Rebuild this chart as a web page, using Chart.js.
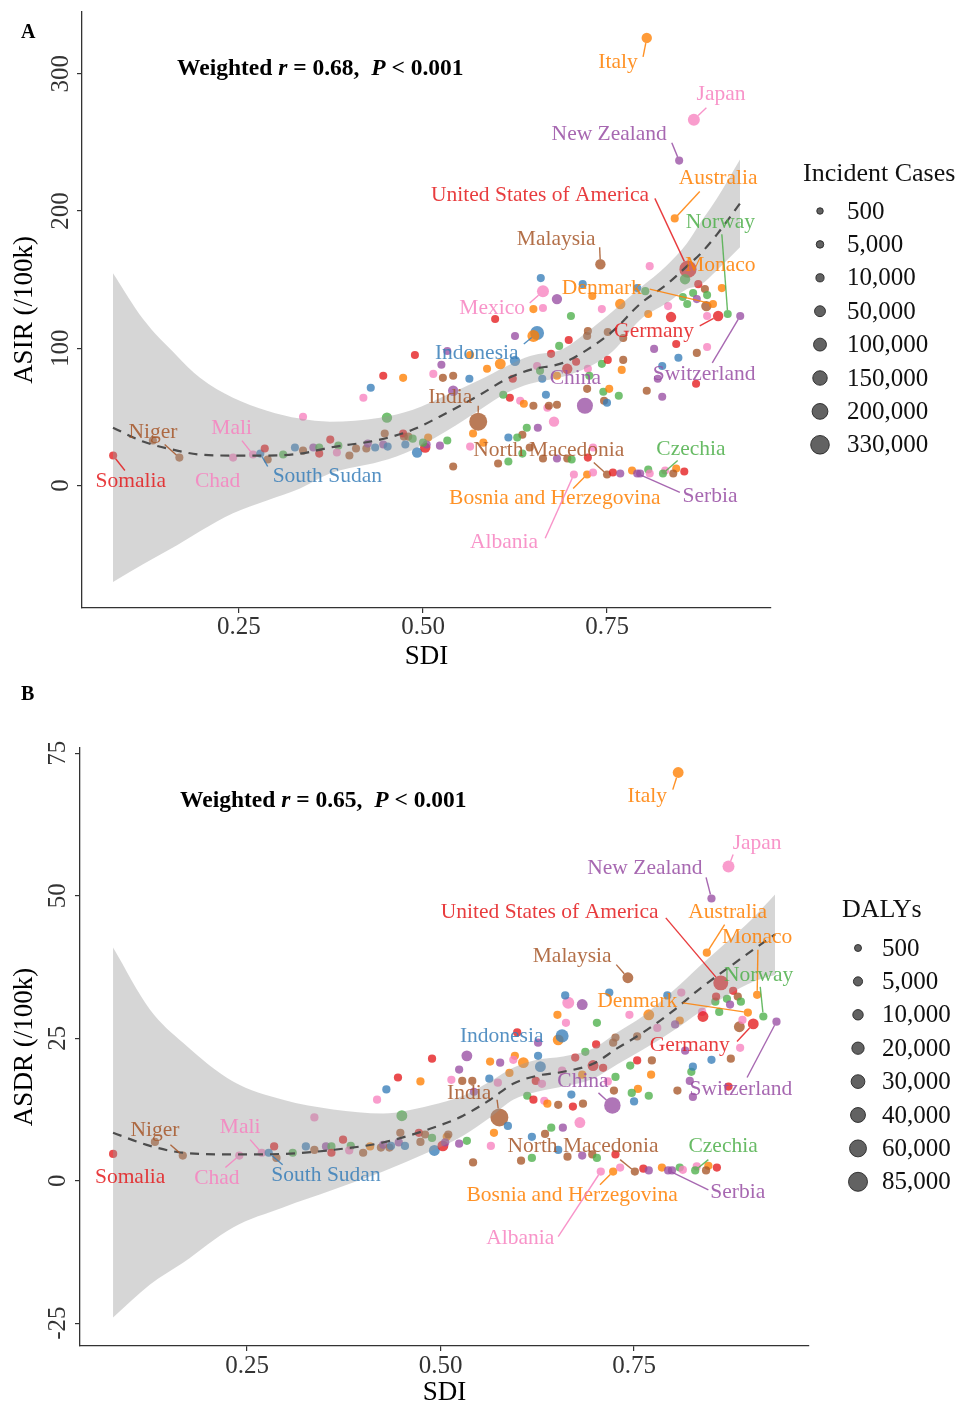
<!DOCTYPE html>
<html><head><meta charset="utf-8">
<script src="https://cdn.jsdelivr.net/npm/chart.js@4.4.1/dist/chart.umd.min.js"></script>
<style>
html,body{margin:0;padding:0;background:#fff;}
#wrap{position:relative;width:961px;height:1408px;overflow:hidden;}
canvas{position:absolute;left:0;}
#cA{top:0;} #cB{top:670px;}
</style></head><body>
<div id="wrap"><canvas id="cA" width="961" height="690"></canvas><canvas id="cB" width="961" height="738"></canvas></div>
<script>
// ---------------- DATA ----------------
const xTicks = [0.25, 0.50, 0.75];
const yTicksA = [0, 100, 200, 300];
const yTicksB = [-25, 0, 25, 50, 75];
const legendCases = [500, 5000, 10000, 50000, 100000, 150000, 200000, 330000];
const legendDalys = [500, 5000, 10000, 20000, 30000, 40000, 60000, 85000];

// Panel A: SDI vs ASIR
const sdiA = [
0.079,0.133,0.169,0.242,0.269,0.279,0.285,0.289,0.310,0.326,
0.337,0.337,0.351,0.359,0.359,0.374,0.385,0.383,0.400,0.409,
0.423,0.425,0.435,0.446,0.452,0.448,0.451,0.419,0.429,0.446,
0.473,0.489,0.514,0.527,0.541,0.525,0.533,0.541,0.563,0.564,
0.474,0.473,0.480,0.476,0.486,0.492,0.503,0.507,0.505,0.500,
0.523,0.533,0.541,0.568,0.564,0.575,0.663,0.650,0.598,0.701,
0.743,0.768,0.806,0.837,0.655,0.650,0.625,0.625,0.605,0.587,
0.674,0.698,0.685,0.724,0.723,0.751,0.772,0.708,0.696,0.655,
0.659,0.662,0.622,0.682,0.743,0.751,0.772,0.770,0.724,0.726,
0.723,0.745,0.753,0.766,0.746,0.750,0.720,0.667,0.618,0.609,
0.632,0.637,0.650,0.669,0.671,0.682,0.678,0.641,0.656,0.635,
0.628,0.616,0.582,0.602,0.616,0.645,0.635,0.663,0.682,0.696,
0.702,0.724,0.731,0.705,0.723,0.731,0.750,0.758,0.768,0.784,
0.791,0.795,0.806,0.808,0.829,0.826,0.844,0.840,0.855,0.825,
0.847,0.814,0.844,0.872,0.886,0.819,0.871,0.804,0.825,0.931,
0.901,0.886,0.914,0.885,0.894,0.859,0.804,0.868,0.848,0.842,
0.741,0.860,0.856,0.808,0.660,0.663,0.682,0.717,0.730,0.791,
0.802,0.833,0.874,0.883,0.867,0.886,0.906,0.872,0.853];
const asir = [
21.8,32.7,20.3,20.3,22.5,23.2,26.9,18.9,22.5,27.6,
25.4,50.1,27.6,27.6,23.2,33.4,29.0,24.0,21.8,26.9,
26.9,30.5,27.6,29.8,28.3,37.8,49.4,63.9,71.2,79.9,
78.4,95.1,81.3,78.4,79.9,87.9,98.0,69.0,77.7,95.1,
35.6,37.8,35.6,29.8,34.1,24.0,27.6,34.9,29.8,31.2,
29.0,32.7,13.8,37.8,28.3,46.5,129.3,128.5,121.3,123.5,
128.5,132.2,124.9,122.7,111.1,108.9,108.9,90.8,88.6,85.0,
95.9,106.0,101.7,112.6,108.9,111.8,107.5,90.1,85.0,87.1,
83.5,77.7,77.7,79.9,88.6,91.5,91.5,84.2,85.0,79.9,
70.4,68.3,70.4,65.4,61.7,60.3,58.1,66.1,63.9,66.1,
61.7,59.5,58.1,56.6,58.1,58.8,46.5,42.1,42.1,37.0,
34.9,34.9,31.2,16.0,17.4,27.6,23.2,19.6,19.6,19.6,
18.9,20.3,27.6,8.0,8.0,9.4,8.0,9.4,8.7,10.9,
8.7,8.7,11.6,8.7,10.9,8.7,12.3,8.7,10.2,87.1,
93.0,99.5,103.1,96.6,100.9,77.7,74.1,69.0,64.6,123.5,
123.5,123.5,124.9,130.7,132.2,132.2,326.1,266.5,236.7,194.6,
161.2,157.6,150.3,159.8,151.1,141.6,135.8,146.7,138.0,143.8,
141.6,130.7,146.7,143.1,140.2,138.7,143.8,135.8,137.3];
const casesA = [
9e3,9e3,9e3,9e3,9e3,9e3,9e3,9e3,9e3,9e3,
9e3,9e3,9e3,9e3,9e3,9e3,9e3,9e3,9e3,9e3,
9e3,9e3,9e3,9e3,9e3,9e3,4e4,9e3,9e3,9e3,
9e3,9e3,9e3,9e3,9e3,9e3,9e3,4e4,9e3,9e3,
9e3,9e3,9e3,9e3,9e3,4e4,4e4,9e3,9e3,9e3,
9e3,9e3,9e3,9e3,9e3,3e5,9e3,9e3,9e3,9e3,
9e3,4e4,9e3,4e4,1.3e5,7.5e4,9e3,4e4,5e4,9e3,
9e3,9e3,9e3,9e3,9e3,9e3,9e3,9e3,4e4,9e3,
9e3,9e3,9e3,9e3,9e3,9e3,9e3,9e3,9e3,9e3,
9e3,9e3,9e3,9e3,9e3,9e3,2.1e5,9e3,9e3,9e3,
9e3,9e3,9e3,9e3,9e3,9e3,4e4,9e3,9e3,9e3,
9e3,9e3,9e3,9e3,9e3,9e3,9e3,9e3,9e3,9e3,
9e3,9e3,9e3,9e3,9e3,9e3,9e3,9e3,9e3,9e3,
9e3,9e3,9e3,9e3,9e3,9e3,9e3,9e3,9e3,9e3,
9e3,9e3,9e3,9e3,9e3,9e3,9e3,9e3,9e3,9e3,
4e4,9e3,9e3,4e4,9e3,9e3,4e4,7.5e4,9e3,9e3,
4e4,2.6e5,4e4,9e3,9e3,7.5e4,4e4,9e3,9e3,9e3,
9e3,9e3,9e3,9e3,9e3,9e3,9e3,9e3,9e3];
const groupA = (
"RNNKKBRNGB"+"NKPGRRGKNN"+"NPBPBNGKBR"+"ORKNNPPPBO"+"NRNBGBROPG"+
"PGNOKNKORG"+"KOORBOPBOO"+"RRGNNNNRRK"+"GBROGRNOKG"+"NGOGNBPBRG"+
"KONKNNKGPN"+"GBONGNGNPN"+"GRKKOKNRPO"+"PPGKKGONRB"+"BPRNKPRNPP"+
"RKGNOGOKPO"+"NRGKBKPBOB"+"GKRNGGOPG").split('');

// Panel A smooth fit and 95% band
const fitSdiA = [0.0788,0.1196,0.1658,0.1970,0.2418,0.2880,0.3329,0.3736,0.4416,0.4864,0.5326,0.5774,0.6141,0.6454,0.6902,0.7228,0.7582,0.7948,0.8315,0.8587,0.8764,0.8995,0.9307];
const fitA   = [42.1,32.0,25.4,22.5,21.8,21.8,23.2,27.6,33.4,40.7,53.0,66.1,77.7,84.2,89.3,98.8,112.6,132.2,146.7,159.8,168.5,183.0,205.5];
const upperA = [154.7,121.3,94.4,78.4,63.9,54.5,48.7,46.5,49.4,55.2,66.1,77.0,87.1,94.4,99.5,111.8,127.1,143.8,160.5,176.5,191.0,209.2,237.5];
const lowerA = [-70.4,-57.4,-43.6,-33.4,-20.3,-10.9,-2.2,8.7,17.4,26.1,39.9,55.2,67.5,74.1,79.2,85.7,98.0,120.6,132.9,143.1,146.0,156.9,173.6];

// Panel B: SDI vs ASDR
const sdiB = [
0.077,0.131,0.167,0.240,0.269,0.278,0.288,0.285,0.309,0.326,
0.337,0.337,0.352,0.359,0.359,0.374,0.384,0.382,0.400,0.409,
0.423,0.426,0.434,0.436,0.446,0.454,0.448,0.450,0.418,0.430,
0.445,0.474,0.489,0.534,0.524,0.514,0.528,0.541,0.474,0.472,
0.480,0.489,0.492,0.503,0.508,0.506,0.510,0.524,0.534,0.542,
0.543,0.563,0.574,0.564,0.577,0.596,0.607,0.594,0.589,0.626,
0.629,0.623,0.631,0.612,0.620,0.634,0.638,0.652,0.652,0.657,
0.599,0.626,0.576,0.587,0.569,0.565,0.618,0.635,0.643,0.658,
0.652,0.618,0.604,0.674,0.687,0.701,0.723,0.726,0.754,0.769,
0.744,0.662,0.651,0.702,0.665,0.683,0.661,0.718,0.793,0.811,
0.809,0.803,0.780,0.697,0.710,0.683,0.657,0.722,0.724,0.726,
0.716,0.669,0.671,0.684,0.680,0.664,0.683,0.696,0.702,0.726,
0.707,0.723,0.732,0.751,0.762,0.769,0.786,0.794,0.799,0.809,
0.813,0.831,0.829,0.846,0.843,0.857,0.806,0.822,0.826,0.824,
0.826,0.755,0.747,0.750,0.769,0.772,0.745,0.754,0.773,0.850,
0.875,0.887,0.904,0.886,0.890,0.934,0.897,0.917,0.816,0.872,
0.807,0.872,0.850,0.844,0.742,0.862,0.909,0.878,0.884,0.888,
0.870,0.855,0.856,0.874,0.860,0.838,0.839];
const asdr = [
4.7,6.8,4.4,4.4,4.9,4.9,4.0,6.0,4.9,6.0,
11.1,5.4,6.0,6.0,4.9,7.2,6.1,5.3,4.9,6.0,
5.8,6.3,5.8,6.1,6.7,6.1,8.4,11.4,14.2,16.0,
18.1,17.4,21.4,21.9,19.5,17.7,17.5,17.5,6.8,8.4,
8.1,7.5,5.3,6.1,7.7,6.7,8.1,6.5,7.0,3.2,
15.6,17.9,17.2,20.9,20.7,21.9,20.7,21.2,18.9,21.9,
20.0,17.5,17.0,14.9,14.2,14.0,13.5,13.3,24.7,25.4,
26.0,24.2,11.1,9.6,8.4,6.1,7.7,8.2,9.3,9.3,
5.4,4.0,3.5,21.6,22.6,23.9,24.2,25.1,25.3,29.1,
29.1,27.7,29.1,27.7,31.2,30.9,32.5,33.0,32.5,33.0,
28.1,27.4,26.8,20.2,19.8,18.6,19.3,13.2,15.8,18.2,
17.4,15.1,13.0,13.5,10.2,4.2,4.4,4.6,4.0,4.6,
1.6,1.6,2.3,1.6,2.1,1.8,2.3,1.8,1.8,2.3,
1.9,2.5,1.8,2.6,1.8,2.3,15.8,17.5,14.7,19.1,
20.0,16.1,15.4,13.9,14.9,18.6,20.2,21.1,21.1,21.2,
21.4,23.3,27.5,27.0,28.2,27.9,29.5,28.8,22.8,16.5,
71.6,55.1,49.5,40.0,35.6,34.7,32.6,33.3,32.3,31.4,
31.9,31.4,32.3,30.9,29.6,29.6,28.8];
const dalysB = [
2500,2500,2500,2500,2500,2500,2500,2500,2500,2500,
2500,2500,2500,2500,2500,2500,2500,2500,2500,2500,
2500,2500,2500,2500,2500,2500,2500,12000,2500,2500,
2500,2500,2500,12000,2500,2500,2500,2500,2500,2500,
2500,2500,12000,12000,2500,2500,2500,2500,2500,2500,
2500,2500,2500,2500,2500,2500,12000,2500,2500,2500,
12000,2500,2500,2500,2500,2500,2500,2500,12000,25000,
2500,2500,72000,2500,2500,2500,2500,2500,2500,2500,
2500,2500,2500,2500,2500,2500,2500,2500,2500,12000,
2500,2500,2500,2500,18000,12000,2500,2500,2500,2500,
2500,2500,2500,12000,2500,2500,2500,55000,2500,2500,
2500,2500,2500,2500,12000,2500,2500,2500,2500,2500,
2500,2500,2500,2500,2500,2500,2500,2500,2500,2500,
2500,2500,2500,2500,2500,2500,2500,2500,2500,2500,
2500,2500,2500,2500,2500,2500,2500,2500,2500,2500,
2500,2500,12000,12000,2500,2500,2500,2500,2500,2500,
12000,18000,2500,2500,12000,40000,2500,2500,2500,2500,
2500,2500,2500,2500,2500,2500,12000];
const groupB = (
"RNNKKBNRGB"+"KNPGRRGKNO"+"NPNBPBNGKB"+"RORPPKNNNR"+"NGBROPNPGN"+
"PBKOPOOKOB"+"BRKGRKONOB"+"RPNBOKBNGP"+"BGNRGRNNNO"+"KKOGKPBBBK"+
"OPKRROKPNG"+"KBRNKNPNGR"+"KOKNRPOPPG"+"KKGONRNPPG"+"BOGBGOGRNB"+
"NKRNKPOGPR"+"OKPONRORNG"+"GGRPGKR").split('');

// Panel B smooth fit and 95% band
const fitSdiB = [0.0769,0.1247,0.1673,0.2319,0.2965,0.3611,0.4257,0.4864,0.5291,0.5640,0.5937,0.6247,0.6583,0.6970,0.7280,0.7617,0.8004,0.8353,0.8702,0.9038,0.9322];
const fitB   = [8.4,6.1,4.9,4.6,4.7,5.4,6.7,9.1,11.4,14.2,17.0,18.4,19.1,20.5,23.2,26.0,29.8,33.7,37.2,40.5,43.2];
const upperB = [40.9,30.0,24.2,17.4,14.2,12.5,11.8,13.2,14.9,17.4,19.8,21.2,21.8,23.2,26.0,28.9,33.3,37.7,41.9,46.1,50.2];
const lowerB = [-24.0,-18.2,-14.4,-8.2,-4.7,-1.6,1.6,5.1,7.9,11.1,14.2,15.6,16.5,17.9,20.4,23.0,26.3,29.6,32.5,34.9,36.1];

// Country labels: point index, label centre (data units), leader start (data units)
const labelsA = [
 {t:'Italy', i:156, at:[0.765,308.6], from:[0.799,312.3]},
 {t:'Japan', i:157, at:[0.905,284.7], from:[0.885,275.2]},
 {t:'New Zealand', i:158, at:[0.753,255.6], from:[0.838,249.8]},
 {t:'Australia', i:159, at:[0.901,223.7], from:[0.876,214.2]},
 {t:'United States of America', i:161, at:[0.659,211.3], from:[0.815,209.2]},
 {t:'Norway', i:152, at:[0.904,191.7], from:[0.906,183.0]},
 {t:'Malaysia', i:160, at:[0.681,179.4], from:[0.740,173.6]},
 {t:'Monaco', i:176, at:[0.904,160.5], from:null},
 {t:'Denmark', i:154, at:[0.743,143.8], from:[0.808,143.1]},
 {t:'Mexico', i:165, at:[0.594,129.3], from:[0.645,132.9]},
 {t:'Germany', i:150, at:[0.814,112.6], from:[0.876,116.2]},
 {t:'Indonesia', i:64, at:[0.573,96.6], from:[0.637,103.1]},
 {t:'China', i:96, at:[0.707,77.7], from:null},
 {t:'Switzerland', i:149, at:[0.882,81.3], from:[0.893,89.3]},
 {t:'India', i:55, at:[0.537,63.9], from:[0.575,58.1]},
 {t:'Niger', i:2, at:[0.133,38.5], from:[0.149,29.8]},
 {t:'Mali', i:4, at:[0.240,41.4], from:[0.254,32.7]},
 {t:'Somalia', i:0, at:[0.103,2.9], from:[0.095,10.9]},
 {t:'Chad', i:3, at:[0.221,2.9], from:null},
 {t:'South Sudan', i:5, at:[0.370,6.5], from:[0.289,13.8]},
 {t:'North Macedonia', i:126, at:[0.671,25.4], from:[0.732,16.7]},
 {t:'Czechia', i:135, at:[0.864,26.1], from:[0.846,18.2]},
 {t:'Bosnia and Herzegovina', i:124, at:[0.679,-9.4], from:[0.704,-2.2]},
 {t:'Serbia', i:130, at:[0.890,-8.0], from:[0.849,-5.1]},
 {t:'Albania', i:123, at:[0.610,-41.4], from:[0.666,-38.5]}
];
const labelsB = [
 {t:'Italy', i:160, at:[0.767,67.4], from:[0.800,68.6]},
 {t:'Japan', i:161, at:[0.909,59.1], from:[0.878,57.2]},
 {t:'New Zealand', i:162, at:[0.764,54.7], from:[0.843,53.2]},
 {t:'United States of America', i:165, at:[0.641,47.0], from:[0.791,46.1]},
 {t:'Australia', i:163, at:[0.871,47.0], from:[0.867,44.9]},
 {t:'Monaco', i:166, at:[0.909,42.6], from:[0.910,40.5]},
 {t:'Malaysia', i:164, at:[0.670,39.3], from:[0.727,37.9]},
 {t:'Norway', i:157, at:[0.911,36.1], from:[0.913,34.0]},
 {t:'Denmark', i:156, at:[0.754,31.4], from:[0.813,31.2]},
 {t:'Indonesia', i:69, at:[0.579,25.3], from:null},
 {t:'Germany', i:152, at:[0.822,23.7], from:[0.883,24.4]},
 {t:'China', i:107, at:[0.684,17.5], from:[0.704,15.4]},
 {t:'Switzerland', i:155, at:[0.888,16.1], from:[0.896,18.1]},
 {t:'India', i:72, at:[0.537,15.4], from:[0.573,14.2]},
 {t:'Niger', i:2, at:[0.131,8.8], from:[0.151,6.3]},
 {t:'Mali', i:4, at:[0.241,9.3], from:[0.254,7.2]},
 {t:'Somalia', i:0, at:[0.099,0.5], from:null},
 {t:'Chad', i:3, at:[0.211,0.4], from:[0.222,2.3]},
 {t:'South Sudan', i:5, at:[0.352,0.9], from:[0.296,2.8]},
 {t:'North Macedonia', i:123, at:[0.684,6.0], from:[0.732,3.7]},
 {t:'Czechia', i:132, at:[0.865,6.0], from:[0.846,3.7]},
 {t:'Bosnia and Herzegovina', i:121, at:[0.670,-2.5], from:[0.706,-0.7]},
 {t:'Serbia', i:127, at:[0.884,-2.1], from:[0.846,-1.6]},
 {t:'Albania', i:120, at:[0.603,-10.2], from:[0.652,-9.8]}
];

// ---------------- STYLE ----------------
const FONT = '"Liberation Serif", "Times New Roman", serif';
const PAL = {R:'228,26,28', B:'55,126,184', G:'77,175,74', P:'152,78,163', O:'255,127,0', N:'166,86,40', K:'247,129,191'};
const rA = v => 3 + 6.3 * Math.sqrt(v / 330000);
const rB = v => 3 + 6.5 * Math.sqrt(v / 85000);

const overlay = {
  id: 'overlay',
  afterDatasetsDraw(chart, args, o) {
    const ctx = chart.ctx, xs = chart.scales.x, ys = chart.scales.y;
    const X = v => xs.getPixelForValue(v), Y = v => ys.getPixelForValue(v);
    ctx.save();
    ctx.font = '21.5px ' + FONT;
    ctx.textAlign = 'center'; ctx.textBaseline = 'middle';
    o.labels.forEach(l => {
      const col = PAL[o.group[l.i]];
      if (l.from) {
        const x1 = X(l.from[0]), y1 = Y(l.from[1]);
        let x2 = X(o.sdi[l.i]), y2 = Y(o.val[l.i]);
        const d = Math.hypot(x2 - x1, y2 - y1), r = o.rOf(o.size[l.i]);
        if (d > r) { x2 = x1 + (x2 - x1) * (d - r) / d; y2 = y1 + (y2 - y1) * (d - r) / d; }
        ctx.strokeStyle = `rgba(${col},0.85)`; ctx.lineWidth = 1.4;
        ctx.beginPath(); ctx.moveTo(x1, y1); ctx.lineTo(x2, y2); ctx.stroke();
      }
      ctx.fillStyle = `rgba(${col},0.85)`;
      ctx.fillText(l.t, X(l.at[0]), Y(l.at[1]));
    });
    ctx.restore();
  },
  afterDraw(chart, args, o) {
    const ctx = chart.ctx;
    ctx.save();
    ctx.fillStyle = '#000'; ctx.font = 'bold 20px ' + FONT; ctx.textAlign = 'left'; ctx.textBaseline = 'alphabetic';
    ctx.fillText(o.letter, 21, o.letterY);
    const parts = [['Weighted ', false], ['r', true], [' = ' + o.r + ',  ', false], ['P', true], [' < 0.001', false]];
    let x = o.annX;
    parts.forEach(([s, it]) => {
      ctx.font = (it ? 'italic ' : '') + 'bold 23.5px ' + FONT;
      ctx.fillText(s, x, o.annY);
      x += ctx.measureText(s).width;
    });
    ctx.font = '26px ' + FONT; ctx.fillStyle = '#111';
    ctx.fillText(o.legTitle, o.legTitleX, o.legTitleY);
    ctx.font = '25px ' + FONT; ctx.textBaseline = 'middle';
    o.legVals.forEach((v, k) => {
      const cy = o.legY0 + k * 33.4;
      ctx.beginPath(); ctx.arc(o.legCX, cy, o.rOf(v), 0, Math.PI * 2);
      ctx.fillStyle = 'rgba(70,70,70,0.85)'; ctx.fill();
      ctx.strokeStyle = 'rgba(40,40,40,0.9)'; ctx.lineWidth = 1; ctx.stroke();
      ctx.fillStyle = '#111';
      ctx.fillText(v.toLocaleString('en-US'), o.legTX, cy + 1);
    });
    ctx.restore();
  }
};
Chart.register(overlay);

function build(id, s) {
  const pts = s.sdi.map((x, i) => ({x, y: s.val[i]}));
  const curve = arr => s.fitX.map((x, i) => ({x, y: arr[i]}));
  const axisCommon = {
    grid: {display: true, drawOnChartArea: false, drawTicks: true, tickLength: 5, color: '#333', lineWidth: 1.2},
    border: {display: true, color: '#333', width: 1.3}
  };
  return new Chart(document.getElementById(id), {
    type: 'scatter',
    data: {datasets: [
      {type: 'scatter', data: pts, backgroundColor: s.group.map(g => `rgba(${PAL[g]},0.78)`),
       pointRadius: s.size.map(v => s.rOf(v)), pointBorderWidth: 0, order: 3},
      {type: 'line', data: curve(s.upper), borderColor: 'rgba(0,0,0,0)', borderWidth: 0, pointRadius: 0,
       fill: '+1', backgroundColor: 'rgba(153,153,153,0.4)', cubicInterpolationMode: 'monotone', order: 2},
      {type: 'line', data: curve(s.lower), borderColor: 'rgba(0,0,0,0)', borderWidth: 0, pointRadius: 0,
       fill: false, cubicInterpolationMode: 'monotone', order: 2},
      {type: 'line', data: curve(s.fit), borderColor: '#4d4d4d', borderWidth: 2.2, borderDash: [9, 7],
       pointRadius: 0, fill: false, cubicInterpolationMode: 'monotone', order: 1}
    ]},
    options: {
      responsive: false, animation: false, events: [],
      layout: {padding: s.pad},
      plugins: {legend: {display: false}, tooltip: {enabled: false}, overlay: s.ov},
      scales: {
        x: Object.assign({type: 'linear', min: s.xMin, max: s.xMax,
          afterBuildTicks: sc => { sc.ticks = xTicks.map(v => ({value: v})); },
          afterFit: sc => { sc.height = s.xH; },
          ticks: {callback: v => v.toFixed(2), font: {family: FONT, size: 25}, color: '#333', padding: s.xTickPad, maxRotation: 0, autoSkip: false},
          title: {display: true, text: 'SDI', font: {family: FONT, size: 27, lineHeight: 1.1}, color: '#000', padding: {top: 0, bottom: s.xTitlePad}}
        }, axisCommon),
        y: Object.assign({type: 'linear', min: s.yMin, max: s.yMax,
          afterBuildTicks: sc => { sc.ticks = s.yTicks.map(v => ({value: v})); },
          afterFit: sc => { sc.width = s.yW; },
          ticks: {callback: v => String(v), font: {family: FONT, size: 25}, color: '#333', padding: s.yTickPad,
                  minRotation: 90, maxRotation: 90, crossAlign: 'center', autoSkip: false},
          title: {display: true, text: s.yTitle, font: {family: FONT, size: 27, lineHeight: 1.1}, color: '#000', padding: {top: 10, bottom: 0}}
        }, axisCommon)
      }
    }
  });
}

build('cA', {
  sdi: sdiA, val: asir, size: casesA, group: groupA, rOf: rA,
  fitX: fitSdiA, fit: fitA, upper: upperA, lower: lowerA,
  xMin: 0.0367, xMax: 0.9728, yMin: -89.3, yMax: 345, yTicks: yTicksA,
  pad: {left: 0, right: 190, top: 10, bottom: 0}, xH: 82, yW: 82,
  xTickPad: -0.5, yTickPad: -3, xTitlePad: 18, yTitle: 'ASIR (/100k)',
  ov: {labels: labelsA, sdi: sdiA, val: asir, size: casesA, group: groupA, rOf: rA,
       letter: 'A', letterY: 38, r: '0.68', annX: 177, annY: 75,
       legTitle: 'Incident Cases', legTitleX: 803, legTitleY: 181, legVals: legendCases,
       legY0: 211, legCX: 820, legTX: 847}
});
build('cB', {
  sdi: sdiB, val: asdr, size: dalysB, group: groupB, rOf: rB,
  fitX: fitSdiB, fit: fitB, upper: upperB, lower: lowerB,
  xMin: 0.0342, xMax: 0.976, yMin: -29.0, yMax: 75.9, yTicks: yTicksB,
  pad: {left: 0, right: 152, top: 78, bottom: 0}, xH: 62, yW: 80,
  xTickPad: 0, yTickPad: 0, xTitlePad: 0, yTitle: 'ASDR (/100k)',
  ov: {labels: labelsB, sdi: sdiB, val: asdr, size: dalysB, group: groupB, rOf: rB,
       letter: 'B', letterY: 30, r: '0.65', annX: 180, annY: 137,
       legTitle: 'DALYs', legTitleX: 842, legTitleY: 247, legVals: legendDalys,
       legY0: 278, legCX: 858, legTX: 882}
});
</script>
</body></html>
